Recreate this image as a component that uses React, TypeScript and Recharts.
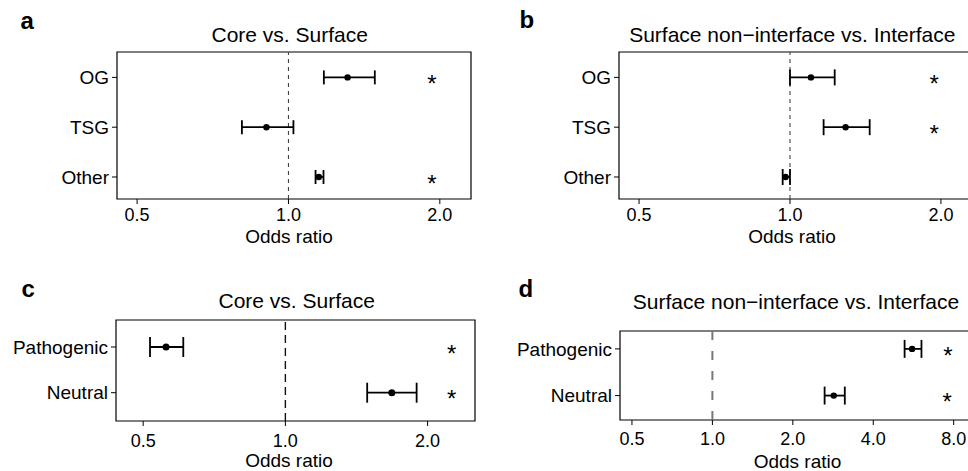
import React from "react";
import {
  ScatterChart,
  Scatter,
  XAxis,
  YAxis,
  ErrorBar,
  ReferenceLine,
  ReferenceArea,
} from "recharts";

// ---------- data ----------
const geneCategories = ["OG", "TSG", "Other"];
const variantCategories = ["Pathogenic", "Neutral"];

// Panel a: Core vs. Surface (gene classes)
const aOdds = [1.311, 0.904, 1.149];
const aLow = [1.176, 0.808, 1.132];
const aHigh = [1.485, 1.023, 1.174];
const aSig = [true, false, true];
const aStarAt = 1.93;

// Panel b: Surface non-interface vs. Interface (gene classes)
const bOdds = [1.101, 1.291, 0.98];
const bLow = [1.0, 1.167, 0.967];
const bHigh = [1.228, 1.442, 1.0];
const bSig = [true, true, false];
const bStarAt = 1.94;

// Panel c: Core vs. Surface (variant classes)
const cOdds = [0.559, 1.68];
const cLow = [0.517, 1.49];
const cHigh = [0.608, 1.896];
const cSig = [true, true];
const cStarAt = 2.25;

// Panel d: Surface non-interface vs. Interface (variant classes)
const dOdds = [5.59, 2.846];
const dLow = [5.24, 2.63];
const dHigh = [6.06, 3.13];
const dSig = [true, true];
const dStarAt = [7.62, 7.57];

const ticksABC = [0.5, 1, 2];
const ticksD = [0.5, 1, 2, 4, 8];

const FONT = '"Liberation Sans", Arial, Helvetica, sans-serif';

function buildRows(odds: number[], lo: number[], hi: number[]) {
  return odds.map((v, i) => ({ x: v, y: i + 1, err: [v - lo[i], hi[i] - v] }));
}
function buildStars(sig: boolean[], at: number | number[]) {
  const out: { x: number; y: number }[] = [];
  sig.forEach((s, i) => {
    if (s) out.push({ x: Array.isArray(at) ? at[i] : at, y: i + 1 });
  });
  return out;
}

type PanelProps = {
  left: number;
  top: number;
  width: number;
  height: number;
  marginTop: number;
  marginRight: number;
  yAxisWidth: number;
  xAxisHeight: number;
  xDomain: [number, number];
  yDomain: [number, number];
  xTicks: number[];
  cats: string[];
  rows: any[];
  stars: any[];
  capHalf: number;
  dotR: number;
  refStroke: string;
  refWidth: number;
  refDash: string;
  xTickMargin: number;
};

function Panel(p: PanelProps) {
  const yTicks = p.cats.map((_, i) => i + 1);
  return (
    <div style={{ position: "absolute", left: p.left, top: p.top }}>
      <ScatterChart
        width={p.width}
        height={p.height}
        margin={{ top: p.marginTop, right: p.marginRight, bottom: 0, left: 0 }}
      >
        <XAxis
          type="number"
          dataKey="x"
          scale="log"
          domain={p.xDomain}
          allowDataOverflow
          ticks={p.xTicks}
          interval={0}
          tickFormatter={(v: number) => v.toFixed(1)}
          height={p.xAxisHeight}
          tickSize={5}
          tickMargin={p.xTickMargin}
          axisLine={false}
          tickLine={{ stroke: "#000", strokeWidth: 1 }}
          tick={{ fill: "#000", fontSize: 18, fontFamily: FONT }}
        />
        <YAxis
          type="number"
          dataKey="y"
          domain={p.yDomain}
          allowDataOverflow
          reversed
          ticks={yTicks}
          interval={0}
          tickFormatter={(v: number) => p.cats[v - 1] ?? ""}
          width={p.yAxisWidth}
          tickSize={5}
          tickMargin={3}
          axisLine={false}
          tickLine={{ stroke: "#000", strokeWidth: 1 }}
          tick={{ fill: "#000", fontSize: 19, fontFamily: FONT }}
        />
        <ReferenceLine
          x={1}
          stroke={p.refStroke}
          strokeWidth={p.refWidth}
          strokeDasharray={p.refDash}
          ifOverflow="visible"
        />
        <Scatter
          data={p.rows}
          isAnimationActive={false}
          shape={(s: any) => <circle cx={s.cx} cy={s.cy} r={p.dotR} fill="#000" />}
        >
          <ErrorBar
            dataKey="err"
            direction="x"
            width={p.capHalf}
            stroke="#000"
            strokeWidth={1.8}
            isAnimationActive={false}
          />
        </Scatter>
        <Scatter
          data={p.stars}
          isAnimationActive={false}
          shape={(s: any) => (
            <text
              x={s.cx}
              y={s.cy + 1 + 0.573 * 24}
              textAnchor="middle"
              fontSize={24}
              fontFamily={FONT}
              fill="#000"
            >
              *
            </text>
          )}
        />
        <ReferenceArea
          x1={p.xDomain[0]}
          x2={p.xDomain[1]}
          y1={p.yDomain[0]}
          y2={p.yDomain[1]}
          fill="none"
          fillOpacity={0}
          stroke="#000"
          strokeWidth={1.2}
          ifOverflow="visible"
        />
      </ScatterChart>
    </div>
  );
}

export default function App() {
  const aRows = buildRows(aOdds, aLow, aHigh);
  const bRows = buildRows(bOdds, bLow, bHigh);
  const cRows = buildRows(cOdds, cLow, cHigh);
  const dRows = buildRows(dOdds, dLow, dHigh);
  return (
    <div
      style={{
        position: "fixed",
        left: 0,
        top: 0,
        width: 968,
        height: 471,
        overflow: "hidden",
        background: "#fff",
        fontFamily: FONT,
      }}
    >
      <Panel
        left={0}
        top={0}
        width={484}
        height={250}
        marginTop={52}
        marginRight={13}
        yAxisWidth={117}
        xAxisHeight={51}
        xDomain={[0.456, 2.307]}
        yDomain={[0.49, 3.442]}
        xTicks={ticksABC}
        cats={geneCategories}
        rows={aRows}
        stars={buildStars(aSig, aStarAt)}
        capHalf={7}
        dotR={3.2}
        refStroke="#444"
        refWidth={1.1}
        refDash="4 4"
        xTickMargin={4}
      />
      <Panel
        left={484}
        top={0}
        width={500}
        height={250}
        marginTop={52}
        marginRight={12}
        yAxisWidth={135}
        xAxisHeight={51}
        xDomain={[0.456, 2.307]}
        yDomain={[0.49, 3.442]}
        xTicks={ticksABC}
        cats={geneCategories}
        rows={bRows}
        stars={buildStars(bSig, bStarAt)}
        capHalf={8}
        dotR={3.2}
        refStroke="#444"
        refWidth={1.1}
        refDash="4 4"
        xTickMargin={4}
      />
      <Panel
        left={0}
        top={250}
        width={484}
        height={221}
        marginTop={70}
        marginRight={9}
        yAxisWidth={116}
        xAxisHeight={50}
        xDomain={[0.438, 2.52]}
        yDomain={[0.409, 2.619]}
        xTicks={ticksABC}
        cats={variantCategories}
        rows={cRows}
        stars={buildStars(cSig, cStarAt)}
        capHalf={10}
        dotR={3.5}
        refStroke="#111"
        refWidth={1.4}
        refDash="8 5"
        xTickMargin={8}
      />
      <Panel
        left={484}
        top={250}
        width={500}
        height={221}
        marginTop={81}
        marginRight={5}
        yAxisWidth={136}
        xAxisHeight={51}
        xDomain={[0.451, 9.95]}
        yDomain={[0.617, 2.523]}
        xTicks={ticksD}
        cats={variantCategories}
        rows={dRows}
        stars={buildStars(dSig, dStarAt)}
        capHalf={9}
        dotR={3.2}
        refStroke="#777"
        refWidth={2}
        refDash="9 11"
        xTickMargin={7}
      />
      <svg
        width={968}
        height={471}
        style={{ position: "absolute", left: 0, top: 0, pointerEvents: "none" }}
        fontFamily={FONT}
      >
        <text x={20.5} y={29.3} fontSize={24} fontWeight="bold" fill="#000">a</text>
        <text x={519.5} y={28.3} fontSize={24} fontWeight="bold" fill="#000">b</text>
        <text x={21.5} y={296.7} fontSize={24} fontWeight="bold" fill="#000">c</text>
        <text x={518.5} y={296.7} fontSize={24} fontWeight="bold" fill="#000">d</text>
        <text x={289.7} y={42.3} fontSize={21} textAnchor="middle" fill="#000">Core vs. Surface</text>
        <text x={792.3} y={42.3} fontSize={21} textAnchor="middle" fill="#000">Surface non−interface vs. Interface</text>
        <text x={296.7} y={308.3} fontSize={21} textAnchor="middle" fill="#000">Core vs. Surface</text>
        <text x={796} y={308.8} fontSize={21} textAnchor="middle" fill="#000">Surface non−interface vs. Interface</text>
        <text x={289} y={243} fontSize={19} textAnchor="middle" fill="#000">Odds ratio</text>
        <text x={792} y={243} fontSize={19} textAnchor="middle" fill="#000">Odds ratio</text>
        <text x={289} y={467} fontSize={19} textAnchor="middle" fill="#000">Odds ratio</text>
        <text x={797.5} y={468} fontSize={19} textAnchor="middle" fill="#000">Odds ratio</text>
      </svg>
    </div>
  );
}
